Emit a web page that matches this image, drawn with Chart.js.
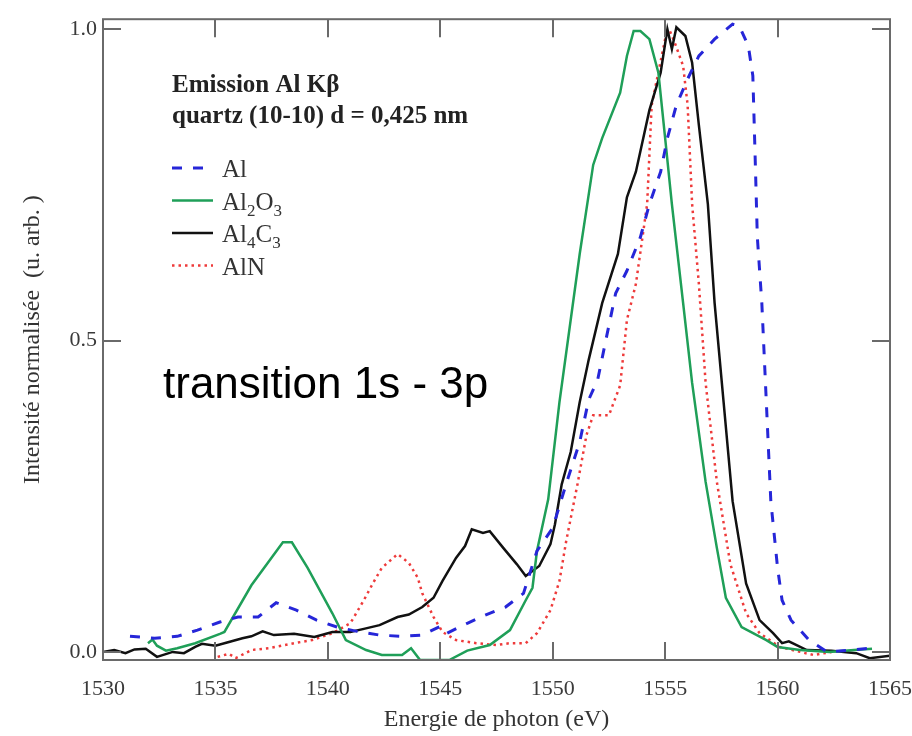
<!DOCTYPE html>
<html>
<head>
<meta charset="utf-8">
<script src="https://cdn.jsdelivr.net/npm/chart.js@4"></script>
<style>
  html, body { margin: 0; padding: 0; background: #fff; }
  #wrap { width: 912px; height: 736px; position: relative; }
</style>
</head>
<body>
<div id="wrap"><canvas id="spectre"></canvas></div>
<script>
// Emission Al K-beta, spectres normalises
const xTicks = [1530, 1535, 1540, 1545, 1550, 1555, 1560, 1565];
const yTicks = [0.0, 0.5, 1.0];

const alEnergy = [1531.2, 1532.3, 1533.3, 1534.2, 1535.2, 1536.0, 1536.9, 1537.7, 1538.6, 1539.5,
  1540.4, 1541.3, 1542.3, 1543.3, 1544.2, 1545.0, 1545.3, 1546.2, 1547.0, 1547.9, 1548.7, 1549.3,
  1550.0, 1550.6, 1551.2, 1551.6, 1552.0, 1552.4, 1552.8, 1553.3, 1553.9, 1554.3, 1554.8, 1555.1,
  1555.5, 1556.0, 1556.5, 1557.2, 1558.0, 1558.3, 1558.7, 1558.9, 1559.0, 1559.1, 1559.3, 1559.5,
  1559.7, 1560.0, 1560.2, 1560.6, 1561.4, 1562.2, 1563.3, 1564.1];
const alIntensity = [0.025, 0.022, 0.025, 0.035, 0.048, 0.056, 0.056, 0.079, 0.067, 0.051,
  0.040, 0.033, 0.027, 0.025, 0.027, 0.041, 0.030, 0.046, 0.059, 0.072, 0.094, 0.162,
  0.199, 0.270, 0.337, 0.405, 0.437, 0.507, 0.576, 0.612, 0.666, 0.719, 0.771, 0.825,
  0.878, 0.920, 0.957, 0.984, 1.008, 1.005, 0.973, 0.925, 0.798, 0.666, 0.560, 0.401,
  0.242, 0.135, 0.083, 0.051, 0.019, 0.0, 0.003, 0.006];

const al2o3Energy = [1532.0, 1532.2, 1532.4, 1532.8, 1533.3, 1534.1, 1535.2, 1535.4, 1536.6, 1538.0,
  1538.4, 1539.1, 1540.2, 1540.8, 1541.7, 1542.4, 1543.3, 1543.7, 1544.1, 1545.4, 1546.2, 1547.2,
  1548.1, 1548.8, 1549.1, 1549.3, 1549.8, 1550.3, 1551.2, 1551.8, 1552.2, 1553.0, 1553.3, 1553.6,
  1553.9, 1554.3, 1554.7, 1555.0, 1555.3, 1555.8, 1556.2, 1556.8, 1557.3, 1557.7, 1558.4, 1559.5,
  1560.0, 1561.0, 1562.3, 1563.4, 1564.2];
const al2o3Intensity = [0.014, 0.020, 0.010, 0.002, 0.006, 0.014, 0.029, 0.032, 0.107, 0.176,
  0.176, 0.135, 0.062, 0.019, 0.003, -0.005, -0.005, 0.006, -0.013, -0.013, 0.002, 0.011,
  0.035, 0.083, 0.103, 0.162, 0.245, 0.401, 0.639, 0.782, 0.825, 0.898, 0.957, 0.997,
  0.997, 0.984, 0.930, 0.825, 0.719, 0.560, 0.432, 0.273, 0.167, 0.087, 0.040, 0.019,
  0.008, 0.003, 0.0, 0.003, 0.005];

const al4c3Energy = [1530.0, 1530.5, 1531.0, 1531.4, 1531.9, 1532.4, 1533.1, 1533.6, 1534.1, 1534.4,
  1535.0, 1535.6, 1536.2, 1536.6, 1537.1, 1537.6, 1538.5, 1539.4, 1540.2, 1541.0, 1541.6, 1542.3,
  1543.1, 1543.6, 1544.2, 1544.7, 1545.1, 1545.7, 1546.1, 1546.4, 1546.9, 1547.2, 1547.8, 1548.4,
  1548.8, 1549.4, 1549.9, 1550.1, 1550.4, 1550.8, 1551.2, 1551.6, 1552.2, 1552.9, 1553.3, 1553.7,
  1554.3, 1554.8, 1555.1, 1555.3, 1555.5, 1555.9, 1556.2, 1556.5, 1556.9, 1557.2, 1557.6, 1558.0,
  1558.6, 1559.2, 1559.8, 1560.2, 1560.5, 1561.3, 1562.4, 1563.5, 1564.1, 1565.0];
const al4c3Intensity = [0.0, 0.003, -0.002, 0.004, 0.005, -0.008, 0.0, -0.002, 0.008, 0.013,
  0.010, 0.016, 0.022, 0.025, 0.033, 0.027, 0.029, 0.024, 0.032, 0.032, 0.037, 0.043,
  0.056, 0.060, 0.072, 0.087, 0.114, 0.151, 0.170, 0.197, 0.191, 0.194, 0.167, 0.141,
  0.122, 0.138, 0.173, 0.205, 0.269, 0.321, 0.401, 0.469, 0.560, 0.639, 0.730, 0.771,
  0.870, 0.930, 1.0, 0.968, 1.003, 0.989, 0.946, 0.846, 0.719, 0.560, 0.401, 0.242,
  0.110, 0.051, 0.030, 0.014, 0.017, 0.003, 0.002, -0.002, -0.010, -0.006];

const alnEnergy = [1535.1, 1535.6, 1535.9, 1536.6, 1537.4, 1538.5, 1539.3, 1540.2, 1541.0, 1541.6,
  1542.0, 1542.4, 1543.1, 1543.6, 1544.0, 1544.2, 1544.7, 1545.1, 1545.7, 1546.6, 1547.5, 1548.1,
  1548.8, 1549.3, 1549.9, 1550.3, 1550.6, 1551.1, 1551.5, 1551.8, 1552.5, 1553.0, 1553.3, 1553.7,
  1554.2, 1554.4, 1555.0, 1555.2, 1555.4, 1555.8, 1556.0, 1556.2, 1556.5, 1556.8, 1557.3, 1557.9,
  1558.6, 1559.2, 1560.1, 1561.0, 1561.6, 1562.4];
const alnIntensity = [-0.008, -0.003, -0.010, 0.003, 0.006, 0.014, 0.019, 0.030, 0.046, 0.083,
  0.110, 0.135, 0.157, 0.143, 0.119, 0.094, 0.056, 0.032, 0.019, 0.014, 0.011, 0.014,
  0.014, 0.030, 0.067, 0.114, 0.178, 0.269, 0.348, 0.380, 0.380, 0.428, 0.533, 0.591,
  0.719, 0.878, 0.984, 0.998, 0.981, 0.941, 0.878, 0.719, 0.591, 0.432, 0.273, 0.141,
  0.062, 0.030, 0.008, 0.0, -0.005, 0.0];

function pairs(xs, ys) {
    return xs.map((x, i) => ({ x: x, y: ys[i] }));
}

const SERIF = '"Liberation Serif", "Times New Roman", serif';
Chart.defaults.font.family = SERIF;

// legend entries: label parts [text, isSubscript]
const legendRows = [
    { parts: [['Al', 0]], ds: 0 },
    { parts: [['Al', 0], ['2', 1], ['O', 0], ['3', 1]], ds: 1 },
    { parts: [['Al', 0], ['4', 1], ['C', 0], ['3', 1]], ds: 2 },
    { parts: [['AlN', 0]], ds: 3 }
];

// box, inward ticks, title block and legend
const framePlugin = {
    id: 'frame',
    afterDraw(chart) {
        const ctx = chart.ctx;
        const a = chart.chartArea;
        const xs = chart.scales.x, ys = chart.scales.y;
        ctx.save();
        ctx.strokeStyle = '#6a6a6a';
        ctx.lineWidth = 2;
        ctx.strokeRect(a.left, a.top, a.right - a.left, a.bottom - a.top);
        ctx.beginPath();
        xTicks.forEach(v => {
            const px = Math.round(xs.getPixelForValue(v));
            ctx.moveTo(px, a.bottom); ctx.lineTo(px, a.bottom - 18);
            ctx.moveTo(px, a.top); ctx.lineTo(px, a.top + 18);
        });
        yTicks.forEach(v => {
            const py = Math.round(ys.getPixelForValue(v));
            ctx.moveTo(a.left, py); ctx.lineTo(a.left + 18, py);
            ctx.moveTo(a.right, py); ctx.lineTo(a.right - 18, py);
        });
        ctx.stroke();

        // title block
        const lx = a.left + 69;
        ctx.fillStyle = '#222';
        ctx.textBaseline = 'alphabetic';
        ctx.font = 'bold 25px ' + SERIF;
        ctx.fillText('Emission Al K\u03b2', lx, 92);
        ctx.fillText('quartz (10-10) d = 0,425 nm', lx, 123);

        // legend
        legendRows.forEach((row, i) => {
            const ds = chart.data.datasets[row.ds];
            const y = 168 + i * 32.5;
            ctx.save();
            ctx.strokeStyle = ds.borderColor;
            ctx.lineWidth = ds.borderWidth;
            ctx.setLineDash(ds.borderDash || []);
            ctx.beginPath();
            ctx.moveTo(lx, y); ctx.lineTo(lx + 41, y);
            ctx.stroke();
            ctx.restore();
            let tx = lx + 50;
            ctx.fillStyle = '#333';
            row.parts.forEach(p => {
                ctx.font = (p[1] ? '17px ' : '25px ') + SERIF;
                ctx.fillText(p[0], tx, y + 9 + (p[1] ? 6 : 0));
                tx += ctx.measureText(p[0]).width;
            });
        });

        // annotation
        ctx.fillStyle = '#000';
        ctx.font = '44px "Liberation Sans", Arial, sans-serif';
        ctx.fillText('transition 1s - 3p', 163, 398);
        ctx.restore();
    }
};

const chart = new Chart(document.getElementById('spectre'), {
    type: 'line',
    data: {
        datasets: [{
            label: 'Al',
            data: pairs(alEnergy, alIntensity),
            borderColor: '#2626d8',
            borderWidth: 3,
            borderDash: [10, 11]
        }, {
            label: 'Al2O3',
            data: pairs(al2o3Energy, al2o3Intensity),
            borderColor: '#1f9f58',
            borderWidth: 2.5
        }, {
            label: 'Al4C3',
            data: pairs(al4c3Energy, al4c3Intensity),
            borderColor: '#111111',
            borderWidth: 2.5
        }, {
            label: 'AlN',
            data: pairs(alnEnergy, alnIntensity),
            borderColor: '#ee3a3a',
            borderWidth: 2.5,
            borderDash: [2.5, 4]
        }]
    },
    options: {
        responsive: true,
        maintainAspectRatio: false,
        animation: false,
        layout: { padding: { top: 13, right: 22, left: 0, bottom: 0 } },
        elements: {
            point: { radius: 0 },
            line: { tension: 0, fill: false }
        },
        plugins: {
            legend: { display: false },
            tooltip: { enabled: false }
        },
        scales: {
            x: {
                type: 'linear',
                min: 1530,
                max: 1565,
                grid: { display: false, drawTicks: false },
                border: { display: false },
                afterBuildTicks: s => { s.ticks = xTicks.map(v => ({ value: v })); },
                afterFit: s => { s.height = 76; s.paddingLeft = 0; s.paddingRight = 0; },
                ticks: {
                    color: '#3a3a3a',
                    padding: 16,
                    maxRotation: 0,
                    font: { size: 22 },
                    callback: v => String(v)
                },
                title: {
                    display: true,
                    text: 'Energie de photon (eV)',
                    color: '#333',
                    font: { size: 24, lineHeight: 1.2 },
                    padding: { top: 0, bottom: 2 }
                }
            },
            y: {
                min: -0.013,
                max: 1.016,
                grid: { display: false, drawTicks: false },
                border: { display: false },
                afterBuildTicks: s => { s.ticks = yTicks.map(v => ({ value: v })); },
                afterFit: s => { s.width = 103; },
                ticks: {
                    color: '#3a3a3a',
                    padding: 6,
                    font: { size: 22 },
                    callback: v => v.toFixed(1)
                },
                title: {
                    display: true,
                    text: 'Intensité normalisée  (u. arb. )',
                    color: '#333',
                    font: { size: 24, lineHeight: 1.2 },
                    padding: { top: 18, bottom: 0 }
                }
            }
        }
    },
    plugins: [framePlugin]
});
</script>
</body>
</html>
